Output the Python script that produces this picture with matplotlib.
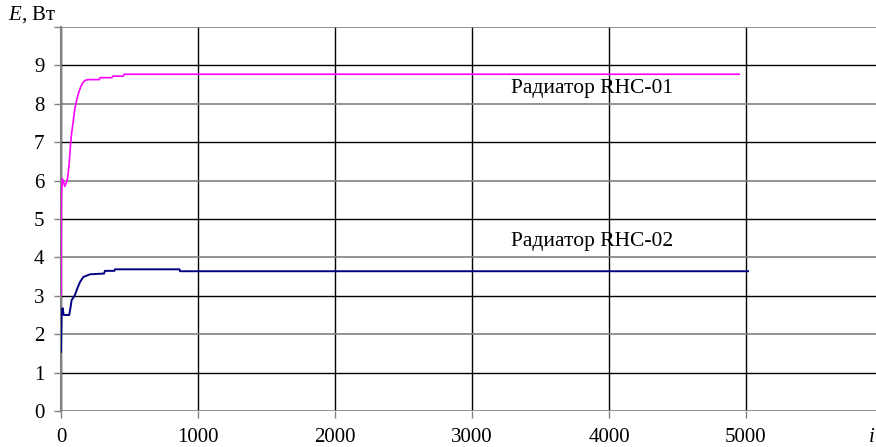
import matplotlib
matplotlib.use("Agg")
import matplotlib.pyplot as plt

# Data
i_rhc01 = [0, 3, 10, 20, 28, 40, 50, 60, 70, 78, 90, 100, 115, 130, 145, 160, 175, 200,
           280, 285, 370, 380, 455, 462, 4950]
e_rhc01 = [3.0, 5.6, 6.05, 5.95, 5.85, 5.95, 6.1, 6.45, 6.95, 7.25, 7.55, 7.85, 8.1, 8.3,
           8.45, 8.55, 8.61, 8.63, 8.63, 8.68, 8.68, 8.72, 8.72, 8.77, 8.77]

i_rhc02 = [0, 5, 12, 20, 60, 70, 78, 90, 102, 120, 139, 163, 212, 315, 321, 390, 394,
           865, 869, 5015]
e_rhc02 = [1.54, 2.6, 2.68, 2.5, 2.5, 2.7, 2.89, 2.95, 3.02, 3.2, 3.36, 3.49, 3.56, 3.58,
           3.65, 3.65, 3.69, 3.69, 3.64, 3.64]

x_ticks = [0, 1000, 2000, 3000, 4000, 5000]
y_ticks = [0, 1, 2, 3, 4, 5, 6, 7, 8, 9, 10]
y_tick_labels = ["0", "1", "2", "3", "4", "5", "6", "7", "8", "9", ""]
label_01 = "Радиатор RHC-01"
label_02 = "Радиатор RHC-02"

plt.rcParams['font.family'] = ['Liberation Serif', 'DejaVu Serif']
plt.rcParams['mathtext.fontset'] = 'custom'
plt.rcParams['mathtext.rm'] = 'Liberation Serif'
plt.rcParams['mathtext.it'] = 'Liberation Serif:italic'

fig = plt.figure(figsize=(8.76, 4.47), dpi=100)
ax = fig.add_axes([0.0696, 0.0805, 1.0 - 0.0696, 0.9396 - 0.0805])
ax.set_xlim(0, 5949)
ax.set_ylim(0, 10)

ax.set_xticks(x_ticks)
ax.set_xticklabels([str(v) for v in x_ticks])
ax.set_yticks(y_ticks)
ax.set_yticklabels(y_tick_labels)

ax.grid(True, which='major', axis='both', color='black', linewidth=1.0)
ygl = ax.get_ygridlines()
for k, gl in enumerate(ygl):
    gl.set_color('black' if k % 2 == 1 else '#808080')
    gl.set_linewidth(1.2 if k % 2 == 0 else 1.0)
ax.set_axisbelow(True)

for s in ['right', 'bottom', 'top']:
    ax.spines[s].set_visible(False)
ax.spines['left'].set_color('#808080')
ax.spines['left'].set_linewidth(1.5)

ax.tick_params(axis='both', direction='out', length=5, width=1, color='#808080',
               labelsize=15, pad=7)

ax.plot(i_rhc01, e_rhc01, color='#FF00FF', linewidth=1.2, zorder=3)
ax.plot(i_rhc02, e_rhc02, color='#000080', linewidth=1.4, zorder=3)

ax.text(3285, 8.40, label_01, fontsize=15.5, ha='left', va='center', zorder=4)
ax.text(3285, 4.42, label_02, fontsize=15.5, ha='left', va='center', zorder=4)

fig.text(8 / 876, 1 - 15 / 447, r"$E$, Вт", fontsize=15, ha='left', va='center')
fig.text(869 / 876, 1 - 437 / 447, "i", fontsize=15, style='italic', ha='left', va='center')

fig.savefig("out.png", dpi=100)
